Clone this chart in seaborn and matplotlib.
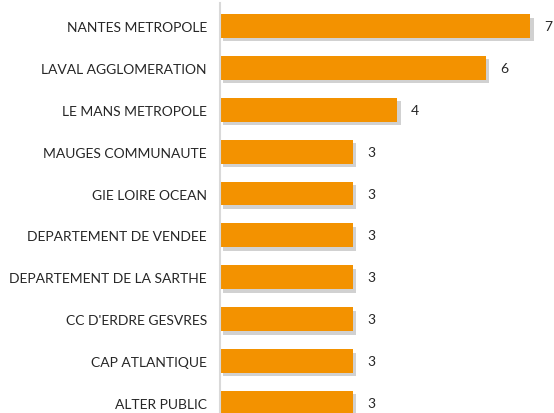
import matplotlib
matplotlib.use("Agg")
import matplotlib.pyplot as plt
import matplotlib.patheffects as pe
import seaborn as sns
import pandas as pd

categories = ["NANTES METROPOLE", "LAVAL AGGLOMERATION", "LE MANS METROPOLE",
              "MAUGES COMMUNAUTE", "GIE LOIRE OCEAN", "DEPARTEMENT DE VENDEE",
              "DEPARTEMENT DE LA SARTHE", "CC D'ERDRE GESVRES", "CAP ATLANTIQUE",
              "ALTER PUBLIC"]
values = [7, 6, 4, 3, 3, 3, 3, 3, 3, 3]

df = pd.DataFrame({"name": categories, "value": values})

sns.set_style("white")
plt.rcParams['font.family'] = ['Lato', 'DejaVu Sans']

W, H = 554, 414
fig = plt.figure(figsize=(W / 100, H / 100), dpi=100)
ax = fig.add_axes([220 / W, 0, (W - 220) / W, (H - 4) / H])

sns.barplot(data=df, x="value", y="name", orient="h", color="#F39200",
            saturation=1, width=0.57, ax=ax)

for p in ax.patches:
    p.set_path_effects([pe.SimplePatchShadow(offset=(2.5, -2.5), shadow_rgbFace="#999999", alpha=0.45),
                        pe.Normal()])
    p.set_linewidth(0)

for i, v in enumerate(values):
    ax.annotate(str(v), xy=(v, i), xytext=(14, 0), textcoords="offset pixels",
                va="center", ha="left", fontsize=10, color="#262626")

ax.set_xlim(0, (W - 220) / 44.3)
ax.set_ylim(9.24, -0.55)
ax.set_xlabel("")
ax.set_ylabel("")
ax.set_xticks([])
ax.tick_params(axis="y", length=0, pad=9.5, labelsize=10, labelcolor="#262626")
for s in ["top", "right", "bottom"]:
    ax.spines[s].set_visible(False)
ax.spines["left"].set_color("#D9D9D9")
ax.spines["left"].set_linewidth(1.5)

fig.savefig("out.png", dpi=100)
